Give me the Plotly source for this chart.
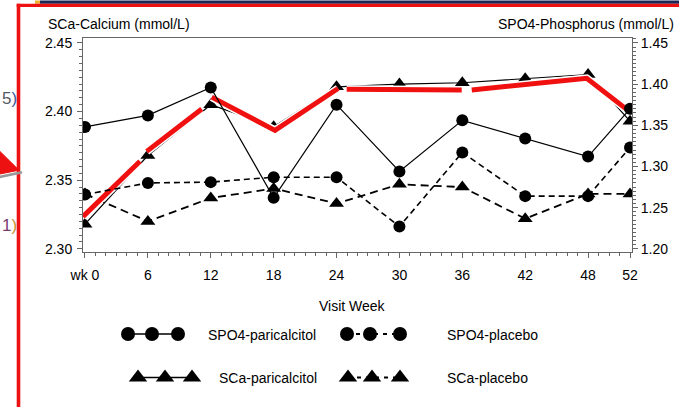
import plotly.graph_objects as go

# ---------------- data ----------------
weeks = [0, 6, 12, 18, 24, 30, 36, 42, 48, 52]
week_labels = ["wk 0", "6", "12", "18", "24", "30", "36", "42", "48", "52"]

sca_paricalcitol = [2.318, 2.368, 2.405, 2.389, 2.418, 2.420, 2.421, 2.424, 2.427, 2.393]
sca_placebo = [2.340, 2.320, 2.337, 2.344, 2.333, 2.347, 2.345, 2.322, 2.340, 2.340]
spo4_paricalcitol = [1.348, 1.362, 1.396, 1.262, 1.375, 1.294, 1.356, 1.334, 1.312, 1.370]
spo4_placebo = [1.266, 1.280, 1.281, 1.287, 1.287, 1.227, 1.317, 1.264, 1.264, 1.323]

# hand-drawn red highlight over SCa-paricalcitol (weeks, SCa scale), segments separated by None
red_highlight_weeks = [-0.2, 5.25, None, 5.89, 11.14, None, 12.09, 18.13, 24.14, None,
                       24.97, 35.94, None, 36.9, 47.87, 51.84]
red_highlight_sca = [2.3235, 2.3638, None, 2.371, 2.4019, None, 2.4105, 2.3863, 2.4168, None,
                     2.4163, 2.4158, None, 2.4158, 2.4242, 2.4007]

sca_ticks = [2.30, 2.35, 2.40, 2.45]
spo4_ticks = [1.20, 1.25, 1.30, 1.35, 1.40, 1.45]

# ---------------- layout helpers ----------------
W, H = 679, 411
ML, MR, MT, MB = 83, 47, 38, 0
PW = W - ML - MR
PH = H - MT - MB
FONT = "Liberation Sans, Arial, sans-serif"


def xp(px):
    return (px - ML) / PW


def yp(py):
    return (H - MB - py) / PH


main_bottom = yp(255)
leg_top = yp(280)

AX = "#666666"
DASH_SPO4 = "6px,4px"
DASH_SCA = "8px,5px"

fig = go.Figure()

# SPO4 on right axis
fig.add_trace(go.Scatter(x=weeks, y=spo4_paricalcitol, yaxis="y2", mode="lines+markers",
                         line=dict(color="black", width=1.2),
                         marker=dict(symbol="circle", size=12, color="black"),
                         name="SPO4-paricalcitol", showlegend=False))
fig.add_trace(go.Scatter(x=weeks, y=spo4_placebo, yaxis="y2", mode="lines+markers",
                         line=dict(color="black", width=1.6, dash=DASH_SPO4),
                         marker=dict(symbol="circle", size=12, color="black"),
                         name="SPO4-placebo", showlegend=False))
# SCa on left axis
fig.add_trace(go.Scatter(x=weeks, y=sca_paricalcitol, mode="lines+markers",
                         line=dict(color="black", width=1.2),
                         marker=dict(symbol="triangle-up", size=13, color="black"),
                         name="SCa-paricalcitol", showlegend=False))
fig.add_trace(go.Scatter(x=weeks, y=sca_placebo, mode="lines+markers",
                         line=dict(color="black", width=1.8, dash=DASH_SCA),
                         marker=dict(symbol="triangle-up", size=13, color="black"),
                         name="SCa-placebo", showlegend=False))
# red highlight
fig.add_trace(go.Scatter(x=red_highlight_weeks, y=red_highlight_sca, mode="lines",
                         line=dict(color="white", width=8), hoverinfo="skip", showlegend=False))
fig.add_trace(go.Scatter(x=red_highlight_weeks, y=red_highlight_sca, mode="lines",
                         line=dict(color="#f01010", width=5), hoverinfo="skip", showlegend=False))

# ---------------- custom legend (own hidden axes) ----------------
legend_entries = [
    ("SPO4-paricalcitol", "circle", "solid", 1.5, 14, [128, 152, 178], 338, 206),
    ("SPO4-placebo", "circle", "4px,5px", 2.0, 14, [347, 370, 400], 338, 445),
    ("SCa-paricalcitol", "triangle-up", "solid", 1.5, 16, [138, 165, 192], 382, 217),
    ("SCa-placebo", "triangle-up", "4px,5px", 2.0, 16, [348, 372, 400], 382, 445),
]
annotations = []
for label, sym, dash, lw, msize, xs, row_y, tx in legend_entries:
    fig.add_trace(go.Scatter(x=xs, y=[row_y] * len(xs), xaxis="x3", yaxis="y3",
                             mode="lines+markers",
                             line=dict(color="black", width=lw, dash=dash),
                             marker=dict(symbol=sym, size=msize, color="black"),
                             hoverinfo="skip", showlegend=False))
    annotations.append(dict(x=xp(tx), y=yp(row_y + 1), xref="paper", yref="paper", text=label,
                            showarrow=False, xanchor="left", yanchor="middle",
                            font=dict(family=FONT, size=14, color="black")))

# titles
annotations += [
    dict(x=xp(46), y=yp(24), xref="paper", yref="paper", text="SCa-Calcium (mmol/L)",
         showarrow=False, xanchor="left", yanchor="middle",
         font=dict(family=FONT, size=14, color="black")),
    dict(x=xp(496), y=yp(24), xref="paper", yref="paper", text="SPO4-Phosphorus (mmol/L)",
         showarrow=False, xanchor="left", yanchor="middle",
         font=dict(family=FONT, size=14, color="black")),
    dict(x=xp(352), y=yp(310), xref="paper", yref="paper", text="Visit Week",
         showarrow=False, xanchor="center", yanchor="middle",
         font=dict(family=FONT, size=14, color="black")),
    # slide fragments at the left edge
    dict(x=xp(0), y=yp(99), xref="paper", yref="paper",
         text="<span style='color:#555b66'>5</span><span style='color:#3b5a9a'>)</span>",
         showarrow=False, xanchor="left", yanchor="middle",
         font=dict(family=FONT, size=17)),
    dict(x=xp(0), y=yp(228), xref="paper", yref="paper",
         text="<span style='color:#7a3a70'>1</span><span style='color:#c89030'>)</span>",
         showarrow=False, xanchor="left", yanchor="middle",
         font=dict(family=FONT, size=17)),
]

# decorative slide shapes
shapes = [
    dict(type="rect", xref="paper", yref="paper", x0=xp(40), x1=xp(680), y0=yp(3.3), y1=yp(0),
         fillcolor="#1c2756", line=dict(width=0), layer="above"),
    dict(type="rect", xref="paper", yref="paper", x0=xp(35), x1=xp(40), y0=yp(3.3), y1=yp(0),
         fillcolor="#f0b030", line=dict(width=0), layer="above"),
    dict(type="rect", xref="paper", yref="paper", x0=xp(16.7), x1=xp(680), y0=yp(6.7), y1=yp(3.3),
         fillcolor="#ee1111", line=dict(width=0), layer="above"),
    dict(type="rect", xref="paper", yref="paper", x0=xp(16.7), x1=xp(20.3), y0=yp(412), y1=yp(3.3),
         fillcolor="#ee1111", line=dict(width=0), layer="above"),
    dict(type="path", xref="paper", yref="paper",
         path=f"M {xp(-1)},{yp(179)} L {xp(22)},{yp(174)}",
         line=dict(color="#999999", width=2.5), layer="above"),
    dict(type="path", xref="paper", yref="paper",
         path=f"M {xp(-1)},{yp(152)} L {xp(19)},{yp(172)} L {xp(-1)},{yp(176)} Z",
         fillcolor="#ee1111", line=dict(color="#ee1111", width=1), layer="above"),
]

tickfont = dict(family=FONT, size=14, color="black")

fig.update_layout(
    width=W, height=H,
    margin=dict(l=ML, r=MR, t=MT, b=MB, pad=0),
    paper_bgcolor="white", plot_bgcolor="white",
    showlegend=False,
    annotations=annotations,
    shapes=shapes,
    xaxis=dict(domain=[0, 1], anchor="y", range=[-0.19, 52.19],
               tickmode="array", tickvals=weeks, ticktext=week_labels,
               ticks="outside", ticklen=5, tickcolor=AX, tickwidth=1, ticklabelstandoff=5,
               minor=dict(dtick=1, tick0=0, ticks="outside", ticklen=3, tickcolor=AX),
               showline=True, linecolor=AX, linewidth=1, mirror=True,
               showgrid=False, zeroline=False, tickfont=tickfont),
    yaxis=dict(domain=[main_bottom, 1], anchor="x", range=[2.29763, 2.4536],
               tickmode="array", tickvals=sca_ticks, ticktext=[f"{v:.2f}" for v in sca_ticks],
               ticks="outside", ticklen=5, tickcolor=AX, tickwidth=1, ticklabelstandoff=2,
               minor=dict(dtick=0.005, tick0=2.30, ticks="outside", ticklen=3, tickcolor=AX),
               showline=True, linecolor=AX, linewidth=1,
               showgrid=False, zeroline=False, tickfont=tickfont),
    yaxis2=dict(overlaying="y", side="right", anchor="x", range=[1.19605, 1.456],
                tickmode="array", tickvals=spo4_ticks, ticktext=[f"{v:.2f}" for v in spo4_ticks],
                ticks="outside", ticklen=5, tickcolor=AX, tickwidth=1,
                minor=dict(dtick=0.005, tick0=1.20, ticks="outside", ticklen=3, tickcolor=AX),
                showline=True, linecolor=AX, linewidth=1,
                showgrid=False, zeroline=False, tickfont=tickfont),
    xaxis3=dict(domain=[0, 1], anchor="y3", range=[ML, ML + PW], visible=False, fixedrange=True),
    yaxis3=dict(domain=[0, leg_top], anchor="x3", range=[411, 280], visible=False, fixedrange=True),
)

fig.write_html("out.html")
